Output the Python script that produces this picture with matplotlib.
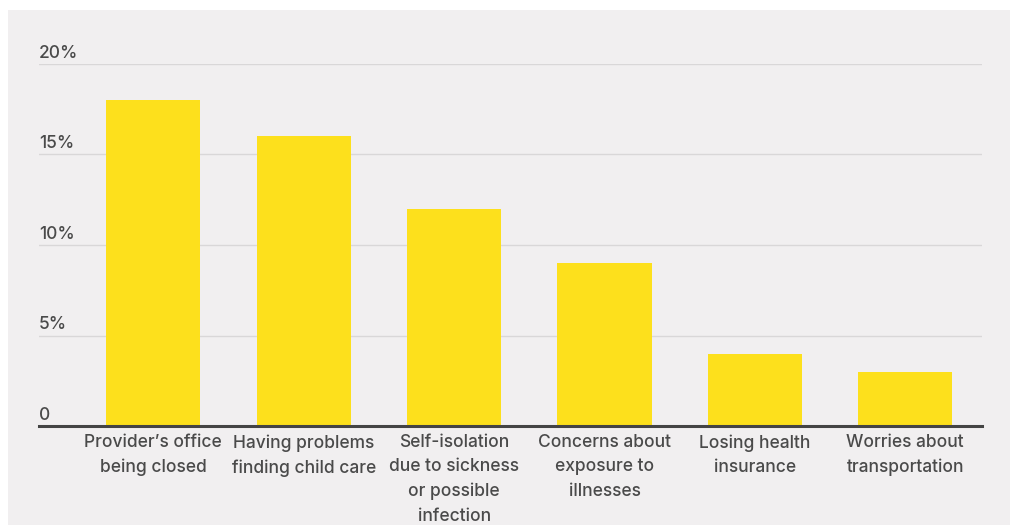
import matplotlib
matplotlib.use("Agg")
import matplotlib.pyplot as plt
from matplotlib.patches import Rectangle

categories = ["Provider’s office\nbeing closed", "Having problems\nfinding child care",
              "Self-isolation\ndue to sickness\nor possible\ninfection",
              "Concerns about\nexposure to\nillnesses", "Losing health\ninsurance",
              "Worries about\ntransportation"]
values = [18, 16, 12, 9, 4, 3]
yticks = [0, 5, 10, 15, 20]
ytick_labels = ["0", "5%", "10%", "15%", "20%"]

plt.rcParams['font.family'] = ['Inter', 'DejaVu Sans']
W, H = 1010, 525
fig = plt.figure(figsize=(W/100, H/100), dpi=100)
fig.patch.set_facecolor('white')
fig.patches.append(Rectangle((8/W, 0), 1 - 8/W, 1 - 10/H, transform=fig.transFigure,
                             facecolor='#f1eff0', edgecolor='none', zorder=-10))

ax = fig.add_axes([39/W, 99/H, (982-39)/W, (426-64)/H])
ax.set_facecolor('none')
ax.set_zorder(5)
x = list(range(len(values)))
ax.bar(x, values, width=0.627, color='#fde01c', zorder=2)
ax.set_xlim(-0.76, 5.51)
ax.set_ylim(0, 20)
for t, lab in zip(yticks, ytick_labels):
    if t > 0:
        ax.axhline(t, color='#d9d7d8', lw=1, zorder=1)
    ax.text(0, t + 0.12, lab, transform=ax.get_yaxis_transform(), ha='left', va='bottom',
            fontsize=12.5, color='#4a4a4a', fontweight='medium')
ax.axhline(0, color='#444444', lw=2.2, zorder=3, clip_on=False)
ax.set_yticks([])
ax.set_xticks(x)
ax.set_xticklabels(categories, fontsize=12.5, color='#4a4a4a', linespacing=1.55,
                   fontweight='medium')
ax.tick_params(axis='x', length=0, pad=6)
for s in ax.spines.values():
    s.set_visible(False)

fig.savefig('out.png', dpi=100)
